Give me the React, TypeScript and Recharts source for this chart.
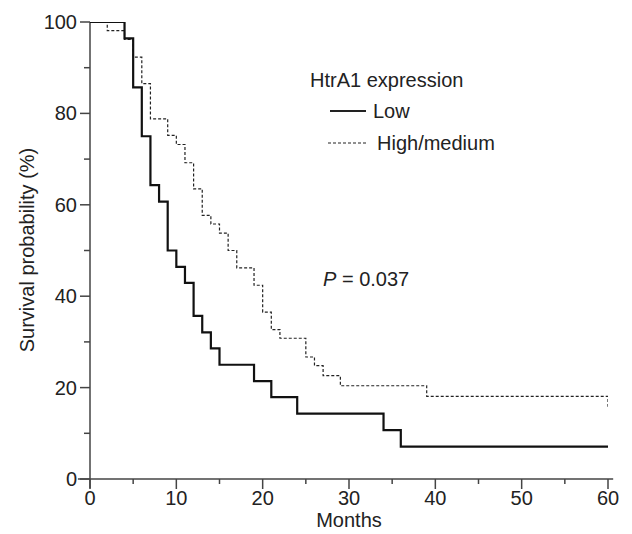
import {
    LineChart, Line, XAxis, YAxis, ReferenceLine, Customized
} from "recharts";

// Kaplan-Meier steps (months, survival %)
const lowMonths = [0, 4, 5, 6, 7, 8, 9, 10, 11, 12, 13, 14, 15, 19, 21, 24, 34, 36, 60];
const lowSurvival = [100, 96.4, 85.7, 75, 64.3, 60.7, 50, 46.4, 42.9, 35.7, 32.1, 28.6, 25, 21.4, 17.9, 14.3, 10.7, 7.1, 7.1];

const highMonths = [0, 2, 4, 5, 6, 7, 9, 10, 11, 12, 13, 14, 15, 16, 17, 19, 20, 21, 22, 25, 26, 27, 29, 39, 60];
const highSurvival = [100, 98.1, 96.2, 92.3, 86.5, 78.8, 75.2, 73.2, 69.2, 63.5, 57.7, 55.8, 53.8, 50, 46.2, 42.4, 36.5, 32.7, 30.8, 26.7, 24.8, 22.6, 20.4, 18.1, 15.8];

const xTicks = [0, 5, 10, 15, 20, 25, 30, 35, 40, 45, 50, 55, 60];
const yTicks = [0, 10, 20, 30, 40, 50, 60, 70, 80, 90, 100];

const lowData = lowMonths.map((m, i) => ({ x: m, y: lowSurvival[i] }));
const highData = highMonths.map((m, i) => ({ x: m, y: highSurvival[i] }));

const FONT = "'Liberation Sans', Arial, sans-serif";
const INK = "#222";
const AXIS = "#444";
const FS = 20;

const XTick = ({ x, y, payload }: any) => {
    const major = payload.value % 10 === 0;
    return (
        <g>
            <line x1={x} y1={y} x2={x} y2={y + (major ? 10 : 5)} stroke={AXIS} strokeWidth={1.5} />
            {major && (
                <text x={x} y={y + 26} textAnchor="middle" fontSize={FS} fill={INK} fontFamily={FONT}>
                    {payload.value}
                </text>
            )}
        </g>
    );
};

const YTick = ({ x, y, payload }: any) => {
    const major = payload.value % 20 === 0;
    return (
        <g>
            <line x1={x - (major ? 10 : 6)} y1={y} x2={x} y2={y} stroke={AXIS} strokeWidth={1.5} />
            {major && (
                <text x={x - 13} y={y + 7} textAnchor="end" fontSize={FS} fill={INK} fontFamily={FONT}>
                    {payload.value}
                </text>
            )}
        </g>
    );
};

// legend, axis titles and the P value
const Labels = () => (
    <g fontFamily={FONT} fill={INK} fontSize={FS}>
        <text x={310} y={87}>HtrA1 expression</text>
        <line x1={330} y1={111} x2={366} y2={111} stroke={INK} strokeWidth={2} />
        <text x={373} y={118}>Low</text>
        <line x1={328} y1={143} x2={368} y2={143} stroke={INK} strokeWidth={1.2} strokeDasharray="3 2" />
        <text x={377} y={150}>High/medium</text>

        <text x={349} y={527} textAnchor="middle">Months</text>
        <text transform="translate(34, 250) rotate(-90)" textAnchor="middle">
            Survival probability (%)
        </text>
        <text x={323} y={286}>
            <tspan fontStyle="italic">P</tspan> = 0.037
        </text>
    </g>
);

export default function App() {
    return (
        <div style={{ position: "absolute", left: 0, top: 0, background: "#fff" }}>
            <LineChart width={632} height={534} margin={{ top: 22, right: 24, left: 0, bottom: 0 }}>
                <XAxis
                    dataKey="x"
                    type="number"
                    domain={[0, 60]}
                    ticks={xTicks}
                    tick={<XTick />}
                    tickLine={false}
                    axisLine={false}
                    tickSize={0}
                    tickMargin={0}
                    height={55}
                    interval={0}
                    allowDataOverflow
                />
                <YAxis
                    type="number"
                    domain={[0, 100]}
                    ticks={yTicks}
                    tick={<YTick />}
                    tickLine={false}
                    axisLine={false}
                    tickSize={0}
                    tickMargin={0}
                    width={90}
                    interval={0}
                    allowDataOverflow
                />
                <ReferenceLine
                    segment={[{ x: -1.4, y: 0 }, { x: 60.6, y: 0 }]}
                    stroke={AXIS}
                    strokeWidth={1.5}
                    ifOverflow="visible"
                />
                <ReferenceLine
                    segment={[{ x: 0, y: -2 }, { x: 0, y: 100 }]}
                    stroke={AXIS}
                    strokeWidth={1.5}
                    ifOverflow="visible"
                />
                <Line
                    data={highData}
                    dataKey="y"
                    type="stepAfter"
                    stroke={INK}
                    strokeWidth={1.2}
                    strokeDasharray="3 2"
                    dot={false}
                    activeDot={false}
                    isAnimationActive={false}
                />
                <Line
                    data={lowData}
                    dataKey="y"
                    type="stepAfter"
                    stroke="#111"
                    strokeWidth={2.2}
                    dot={false}
                    activeDot={false}
                    isAnimationActive={false}
                />
                <Customized component={<Labels />} />
            </LineChart>
        </div>
    );
}
